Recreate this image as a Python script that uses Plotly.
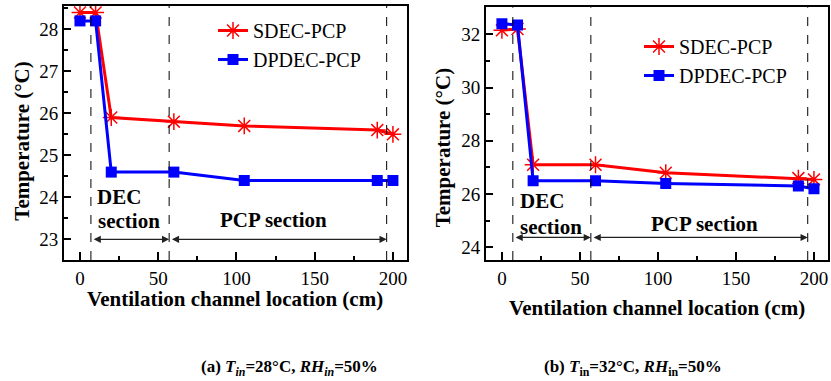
import plotly.graph_objects as go

# Measurement locations along the ventilation channel (cm)
x_loc = [0, 10, 20, 60, 105, 190, 200]

# Case (a): Tin = 28 °C, RHin = 50 %
a_sdec = [28.4, 28.4, 25.9, 25.8, 25.7, 25.6, 25.5]
a_dpdec = [28.2, 28.2, 24.6, 24.6, 24.4, 24.4, 24.4]

# Case (b): Tin = 32 °C, RHin = 50 %
b_sdec = [32.15, 32.2, 27.1, 27.1, 26.8, 26.6, 26.55]
b_dpdec = [32.4, 32.35, 26.5, 26.5, 26.4, 26.3, 26.2]

# Section boundaries (cm): DEC section start, DEC/PCP boundary, PCP end
bounds = [7, 57, 196]

series_names = ["SDEC-PCP", "DPDEC-PCP"]
x_title = "Ventilation channel location (cm)"
y_title = "Temperature (°C)"

RED = "#ff0000"
BLUE = "#0000ff"
FONT = "Liberation Serif"

W, H = 831, 381


def px_x(p):
    return p / W


def px_y(p):
    return 1 - p / H


fig = go.Figure()

panels = [
    dict(xa="x", ya="y", sdec=a_sdec, dpdec=a_dpdec, legend="legend"),
    dict(xa="x2", ya="y2", sdec=b_sdec, dpdec=b_dpdec, legend="legend2"),
]

for p in panels:
    fig.add_trace(go.Scatter(
        x=x_loc, y=p["sdec"], name=series_names[0], mode="lines+markers",
        xaxis=p["xa"], yaxis=p["ya"], legend=p["legend"],
        line=dict(color=RED, width=3),
        marker=dict(symbol="asterisk-open", size=14, color=RED,
                    line=dict(color=RED, width=1.5)),
    ))
    fig.add_trace(go.Scatter(
        x=x_loc, y=p["dpdec"], name=series_names[1], mode="lines+markers",
        xaxis=p["xa"], yaxis=p["ya"], legend=p["legend"],
        line=dict(color=BLUE, width=3),
        marker=dict(symbol="square", size=11, color=BLUE),
    ))

tickfont = dict(family=FONT, size=19, color="black")

x_common = dict(
    range=[-10.2, 209], dtick=50, tick0=0, automargin=False,
    ticks="inside", ticklen=8, tickwidth=1.5, tickcolor="black",
    minor=dict(ticks="inside", ticklen=4, dtick=25, tickwidth=1.5, tickcolor="black"),
    showline=True, linewidth=2, linecolor="black", mirror=True,
    showgrid=False, zeroline=False, tickfont=tickfont,
)
y_common = dict(
    automargin=False,
    ticks="inside", ticklen=7, tickwidth=1.5, tickcolor="black",
    showline=True, linewidth=2, linecolor="black", mirror=True,
    showgrid=False, zeroline=False, tickfont=tickfont,
)

fig.update_layout(
    width=W, height=H,
    margin=dict(l=0, r=0, t=0, b=0),
    paper_bgcolor="white", plot_bgcolor="white",
    font=dict(family=FONT, color="black"),
    xaxis=dict(x_common, domain=[px_x(64), px_x(407)], anchor="y"),
    yaxis=dict(y_common, domain=[px_y(260), px_y(6)], anchor="x",
               range=[22.507, 28.555], dtick=1,
               minor=dict(ticks="inside", ticklen=4, dtick=0.5, tickwidth=1.5, tickcolor="black")),
    xaxis2=dict(x_common, domain=[px_x(486), px_x(828)], anchor="y2"),
    yaxis2=dict(y_common, domain=[px_y(260), px_y(7.3)], anchor="x2",
                range=[23.523, 33.014], dtick=2,
                minor=dict(ticks="inside", ticklen=4, dtick=1, tickwidth=1.5, tickcolor="black")),
    legend=dict(x=px_x(213), y=px_y(11), xanchor="left", yanchor="top",
                bgcolor="rgba(0,0,0,0)", tracegroupgap=0,
                font=dict(family=FONT, size=20, color="black")),
    legend2=dict(x=px_x(639), y=px_y(27), xanchor="left", yanchor="top",
                 bgcolor="rgba(0,0,0,0)", tracegroupgap=0,
                 font=dict(family=FONT, size=20, color="black")),
    showlegend=True,
)

# Axis titles
title_font = dict(family=FONT, size=21, color="black")
for cx, cy in ((235.5, 299), (657, 307.5)):
    fig.add_annotation(xref="paper", yref="paper", x=px_x(cx), y=px_y(cy),
                       text=f"<b>{x_title}</b>", showarrow=False,
                       xanchor="center", yanchor="middle", font=title_font)
for cx, cy in ((21.7, 141), (443.3, 148)):
    fig.add_annotation(xref="paper", yref="paper", x=px_x(cx), y=px_y(cy),
                       text=f"<b>{y_title}</b>", showarrow=False, textangle=-90,
                       xanchor="center", yanchor="middle", font=title_font)

# Dashed section boundaries and double-headed section arrows
arrow_y = {"y": 23.0, "y2": 24.37}
for xa, ya in (("x", "y"), ("x2", "y2")):
    for b in bounds:
        fig.add_shape(type="line", xref=xa, yref=f"{ya} domain",
                      x0=b, x1=b, y0=0, y1=1,
                      line=dict(color="black", width=1, dash="dash"))
    for x0, x1 in ((bounds[0], bounds[1]), (bounds[1], bounds[2])):
        fig.add_annotation(
            xref=xa, yref=ya, axref=xa, ayref=ya,
            x=x1, y=arrow_y[ya], ax=x0 + 0.8, ay=arrow_y[ya],
            text="", showarrow=True, arrowhead=2, arrowside="end+start",
            arrowsize=1.1, arrowwidth=1.3, arrowcolor="#222222",
            startarrowhead=2, startarrowsize=1.1, standoff=0, startstandoff=0,
        )

# Section labels
labels = [
    ("x", "y", 25.2, 24.01, "<b>DEC</b>"),
    ("x", "y", 31.3, 23.44, "<b>section</b>"),
    ("x", "y", 123.8, 23.47, "<b>PCP section</b>"),
    ("x2", "y2", 25.5, 25.75, "<b>DEC</b>"),
    ("x2", "y2", 31.5, 24.77, "<b>section</b>"),
    ("x2", "y2", 129.8, 24.875, "<b>PCP section</b>"),
]
for xa, ya, lx, ly, txt in labels:
    fig.add_annotation(xref=xa, yref=ya, x=lx, y=ly, text=txt, showarrow=False,
                       font=dict(family=FONT, size=21, color="black"))

# Panel captions
captions = [
    (289, "<b>(a) <i>T<sub>in</sub></i>=28°C, <i>RH<sub>in</sub></i>=50%</b>"),
    (633, "<b>(b) <i>T</i><sub>in</sub>=32°C, <i>RH</i><sub>in</sub>=50%</b>"),
]
for cx, txt in captions:
    fig.add_annotation(xref="paper", yref="paper", x=px_x(cx), y=px_y(367.7),
                       text=txt, showarrow=False, xanchor="center", yanchor="middle",
                       font=dict(family=FONT, size=17, color="black"))

fig.write_html("out.html")
